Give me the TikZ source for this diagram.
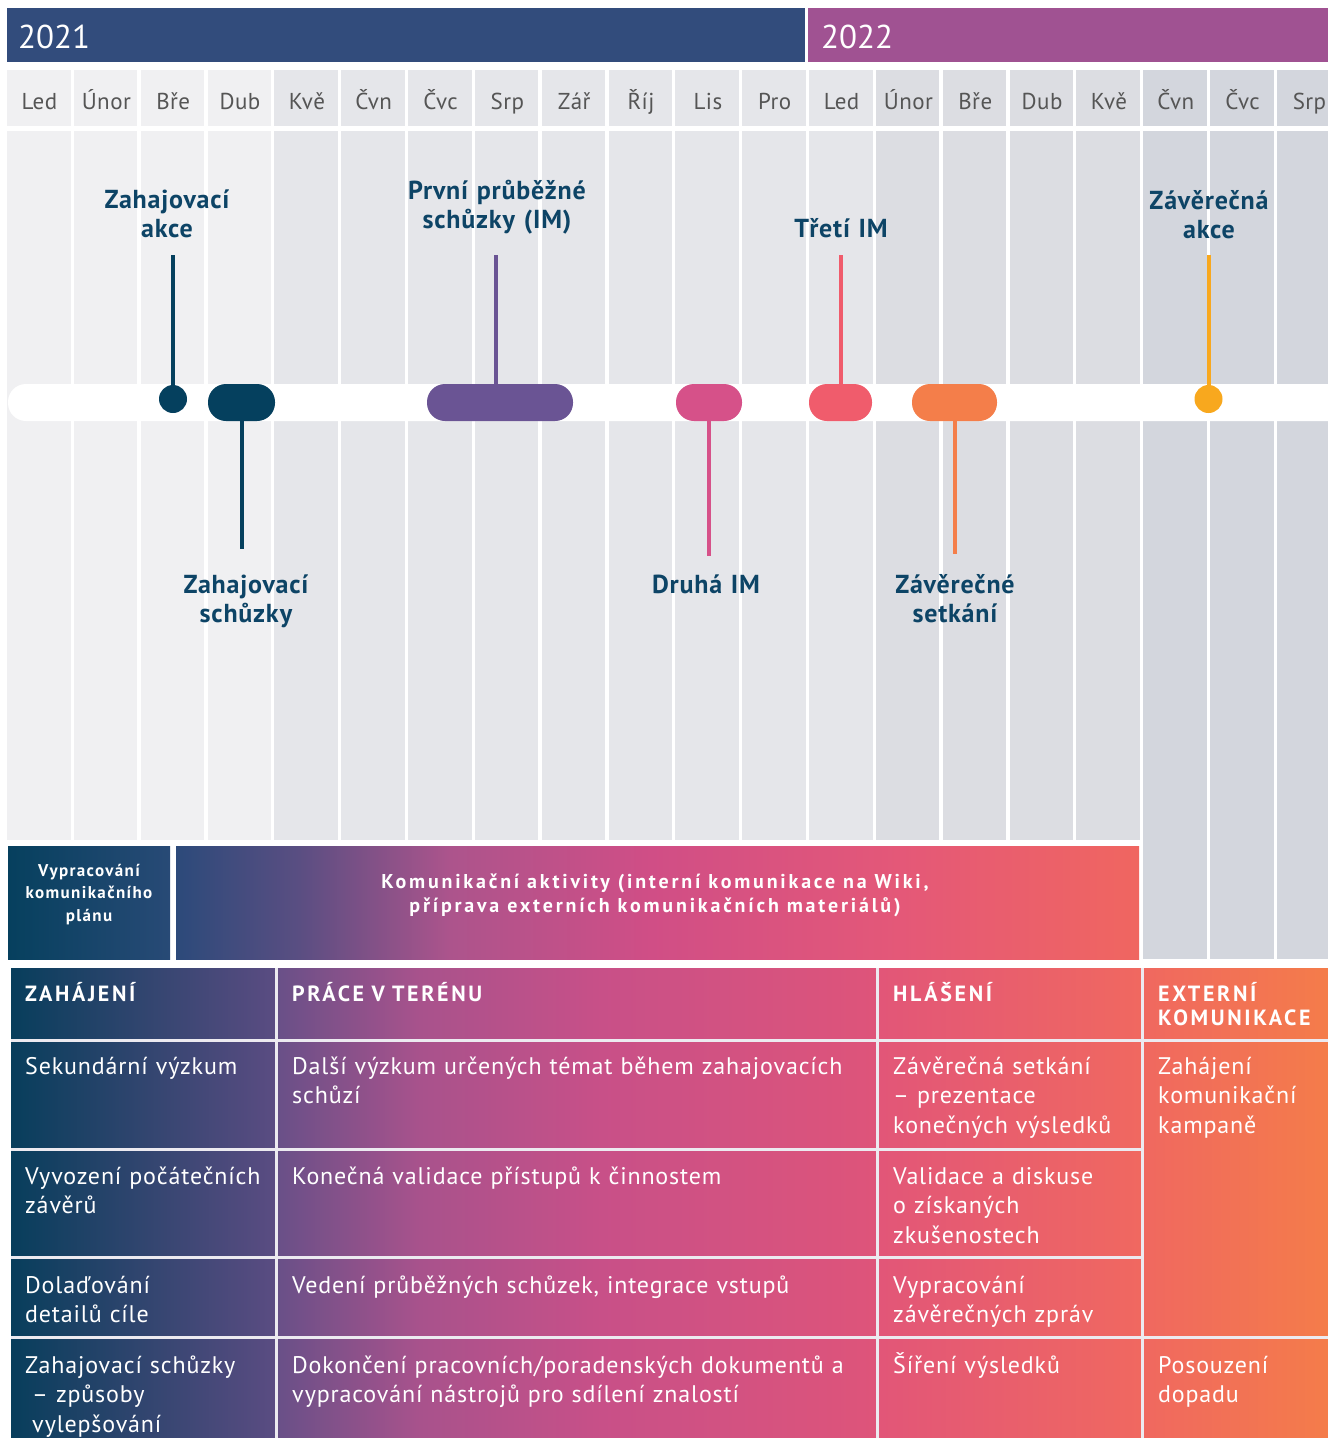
\documentclass[tikz,border=0pt]{standalone}
\usepackage{fontspec}
\setmainfont{PT Sans}
\usetikzlibrary{calc}

\definecolor{yr21}{RGB}{50,76,124}
\definecolor{yr22}{RGB}{160,82,146}
\definecolor{mA}{RGB}{240,240,242}
\definecolor{mB}{RGB}{229,230,234}
\definecolor{mC}{RGB}{220,221,226}
\definecolor{mD}{RGB}{211,214,221}
\definecolor{mtext}{RGB}{85,85,85}
\definecolor{lbl}{RGB}{13,68,102}
\definecolor{ev1}{RGB}{5,64,94}
\definecolor{ev2}{RGB}{106,84,148}
\definecolor{ev3}{RGB}{214,81,137}
\definecolor{ev4}{RGB}{240,92,108}
\definecolor{ev5}{RGB}{244,126,74}
\definecolor{ev6}{RGB}{248,168,30}

\definecolor{tg0}{RGB}{8,62,92}
\definecolor{tg1}{RGB}{90,76,130}
\definecolor{tg2}{RGB}{106,80,136}
\definecolor{tg3}{RGB}{168,82,140}
\definecolor{tg4}{RGB}{200,80,136}
\definecolor{tg5}{RGB}{222,84,122}
\definecolor{tg6}{RGB}{226,86,120}
\definecolor{tg7}{RGB}{240,104,96}
\definecolor{tg8}{RGB}{244,124,74}
\pgfdeclarehorizontalshading{tablegrad}{100bp}{color(0bp)=(tg0); color(25bp)=(tg0); color(35bp)=(tg1); color(35.2bp)=(tg2); color(40.5bp)=(tg3); color(47.4bp)=(tg4); color(57.8bp)=(tg5); color(58bp)=(tg6); color(67.9bp)=(tg7); color(75bp)=(tg8); color(100bp)=(tg8)}

\definecolor{bg0}{RGB}{44,74,122}
\definecolor{bg1}{RGB}{90,78,130}
\definecolor{bg2}{RGB}{172,84,140}
\definecolor{bg3}{RGB}{208,78,134}
\definecolor{bg4}{RGB}{228,88,120}
\definecolor{bg5}{RGB}{240,102,96}
\pgfdeclarehorizontalshading{bandgrad}{100bp}{color(0bp)=(bg0); color(25bp)=(bg0); color(31.4bp)=(bg1); color(39.2bp)=(bg2); color(49.6bp)=(bg3); color(62.6bp)=(bg4); color(75bp)=(bg5); color(100bp)=(bg5)}
\definecolor{pl0}{RGB}{6,64,94}
\definecolor{pl1}{RGB}{40,74,118}
\definecolor{sep}{RGB}{236,234,240}

\begin{document}
\begin{tikzpicture}[x=1pt,y=-1pt,
  yearlbl/.style={anchor=base west,inner sep=0,text=white,font=\fontsize{33}{38}\selectfont},
  monthlbl/.style={anchor=base,inner sep=0,text=mtext,font=\fontsize{23}{27}\selectfont\addfontfeatures{LetterSpace=2}},
  evlabel/.style={anchor=base,inner sep=0,text=lbl,align=center,text width=300pt,font=\bfseries\fontsize{26}{29.5}\selectfont\addfontfeatures{LetterSpace=3}},
  evline/.style={line width=4pt},
  pill/.style={rectangle,rounded corners=18pt,minimum height=37pt,inner sep=0},
  dot/.style={circle,minimum size=28pt,inner sep=0},
  plantxt/.style={inner sep=0,text=white,align=center,font=\bfseries\fontsize{17}{22.5}\selectfont\addfontfeatures{LetterSpace=8}},
  komtxt/.style={inner sep=0,text=white,align=center,font=\bfseries\fontsize{20}{24}\selectfont\addfontfeatures{LetterSpace=14}},
  hdr/.style={anchor=base west,inner sep=0,text=white,align=left,text width=#1,font=\bfseries\fontsize{22}{24}\selectfont\addfontfeatures{LetterSpace=12}},
  cell/.style={anchor=base west,inner sep=0,text=white,align=left,text width=#1,font=\fontsize{24}{29.5}\selectfont\addfontfeatures{LetterSpace=3.5}},
  sepline/.style={draw=sep,line width=3pt}
]
\useasboundingbox (0,0) rectangle (1328,1438);

% year bars
\fill[yr21] (7,8) rectangle (805,62);
\fill[yr22] (808,8) rectangle (1328,62);
\node[yearlbl] (y21) at (18,48) {2021};
\node[yearlbl] (y22) at (821,48) {2022};

% month columns
\foreach \m/\c [count=\i from 0] in {Led/mA,Únor/mA,Bře/mA,Dub/mA,Kvě/mB,Čvn/mB,Čvc/mB,Srp/mB,Zář/mB,Říj/mB,Lis/mB,Pro/mB,Led/mB,Únor/mC,Bře/mC,Dub/mC,Kvě/mC,Čvn/mD,Čvc/mD,Srp/mD}{
  \pgfmathsetmacro\xa{7+66.84*\i}
  \pgfmathsetmacro\yb{\i>16 ? 959 : 840}
  \fill[\c] (\xa,70) rectangle ({\xa+63.5},126);
  \fill[\c] (\xa,131) rectangle ({\xa+63.5},\yb);
  \node[monthlbl] (m\i) at ({\xa+32.5},109) {\m};
}

% timeline bar
\fill[white,rounded corners=18pt] (8,384) rectangle (1346,421);

% events
\node[dot,fill=ev1] (akceDot) at (173,399) {};
\coordinate (akceTop) at (173,255);
\draw[evline,ev1] (akceTop) -- (akceDot);
\node[evlabel] (akceLbl) at (167,208) {Zahajovací\\akce};

\node[pill,fill=ev1,minimum width=67pt] (zs) at (241.5,402.5) {};
\coordinate (zsBot) at (241.5,549);
\draw[evline,ev1] (zs) -- (zsBot);
\node[evlabel] (zsLbl) at (246,593) {Zahajovací\\schůzky};

\coordinate (pimTop) at (496,255);
\node[pill,fill=ev2,minimum width=146pt] (pim) at (500,402.5) {};
\draw[evline,ev2] (pimTop) -- (pimTop |- pim.north);
\node[evlabel] (pimLbl) at (497,199) {První průběžné\\schůzky (IM)};

\node[pill,fill=ev3,minimum width=66pt] (dim) at (709,402.5) {};
\coordinate (dimBot) at (709,556);
\draw[evline,ev3] (dim) -- (dimBot);
\node[evlabel] (dimLbl) at (706,593) {Druhá IM};

\coordinate (timTop) at (840.5,255);
\node[pill,fill=ev4,minimum width=63pt] (tim) at (840.5,402.5) {};
\draw[evline,ev4] (timTop) -- (tim);
\node[evlabel] (timLbl) at (841,237) {Třetí IM};

\node[pill,fill=ev5,minimum width=85pt] (zset) at (954.5,402.5) {};
\coordinate (zsetBot) at (954.5,554);
\draw[evline,ev5] (zset) -- (zsetBot);
\node[evlabel] (zsetLbl) at (955,593) {Závěrečné\\setkání};

\coordinate (zakTop) at (1208.5,255);
\node[dot,fill=ev6] (zakDot) at (1208.5,399) {};
\draw[evline,ev6] (zakTop) -- (zakDot);
\node[evlabel] (zakLbl) at (1209,209) {Závěrečná\\akce};

% communication band
\shade[left color=pl0,right color=pl1] (8,846) rectangle (170,959);
\shade[shading=bandgrad] (176,846) rectangle (1139,959);
\node[plantxt] (planTxt) at (89,894.5) {Vypracování\\komunikačního\\plánu};
\node[komtxt] (komTxt) at (655,895) {Komunikační aktivity (interní komunikace na Wiki,\\příprava externích komunikačních materiálů)};

% table
\shade[shading=tablegrad] (11,968) rectangle (1328,1438);
\draw[sepline] (11,1040) -- (1328,1040);
\draw[sepline] (11,1149) -- (1142.5,1149);
\draw[sepline] (11,1257) -- (1142.5,1257);
\draw[sepline] (11,1337) -- (1328,1337);
\draw[sepline] (276.5,968) -- (276.5,1438);
\draw[sepline] (877.5,968) -- (877.5,1438);
\draw[sepline] (1142.5,968) -- (1142.5,1438);

\node[hdr=240pt] (h1) at (25,1001) {ZAHÁJENÍ};
\node[hdr=560pt] (h2) at (292,1001) {PRÁCE V TERÉNU};
\node[hdr=240pt] (h3) at (893,1001) {HLÁŠENÍ};
\node[hdr=175pt] (h4) at (1158,1001) {EXTERNÍ\\KOMUNIKACE};

\node[cell=245pt] (r1c1) at (25,1074) {Sekundární výzkum};
\node[cell=575pt] (r1c2) at (292,1074) {Další výzkum určených témat během zahajovacích\\schůzí};
\node[cell=245pt] (r1c3) at (893,1074) {Závěrečná setkání\\– prezentace\\konečných výsledků};
\node[cell=170pt] (r1c4) at (1158,1074) {Zahájení\\komunikační\\kampaně};

\node[cell=245pt] (r2c1) at (25,1184) {Vyvození počátečních\\závěrů};
\node[cell=575pt] (r2c2) at (292,1184) {Konečná validace přístupů k činnostem};
\node[cell=245pt] (r2c3) at (893,1184) {Validace a diskuse\\o získaných\\zkušenostech};

\node[cell=245pt] (r3c1) at (25,1293) {Dolaďování\\detailů cíle};
\node[cell=575pt] (r3c2) at (292,1293) {Vedení průběžných schůzek, integrace vstupů};
\node[cell=245pt] (r3c3) at (893,1293) {Vypracování\\závěrečných zpráv};

\node[cell=245pt] (r4c1) at (25,1373) {Zahajovací schůzky\\\hspace*{7pt}– způsoby\\\hspace*{7pt}vylepšování};
\node[cell=575pt] (r4c2) at (292,1373) {Dokončení pracovních/poradenských dokumentů a\\vypracování nástrojů pro sdílení znalostí};
\node[cell=245pt] (r4c3) at (893,1373) {Šíření výsledků};
\node[cell=170pt] (r4c4) at (1158,1373) {Posouzení\\dopadu};
\end{tikzpicture}
\end{document}
